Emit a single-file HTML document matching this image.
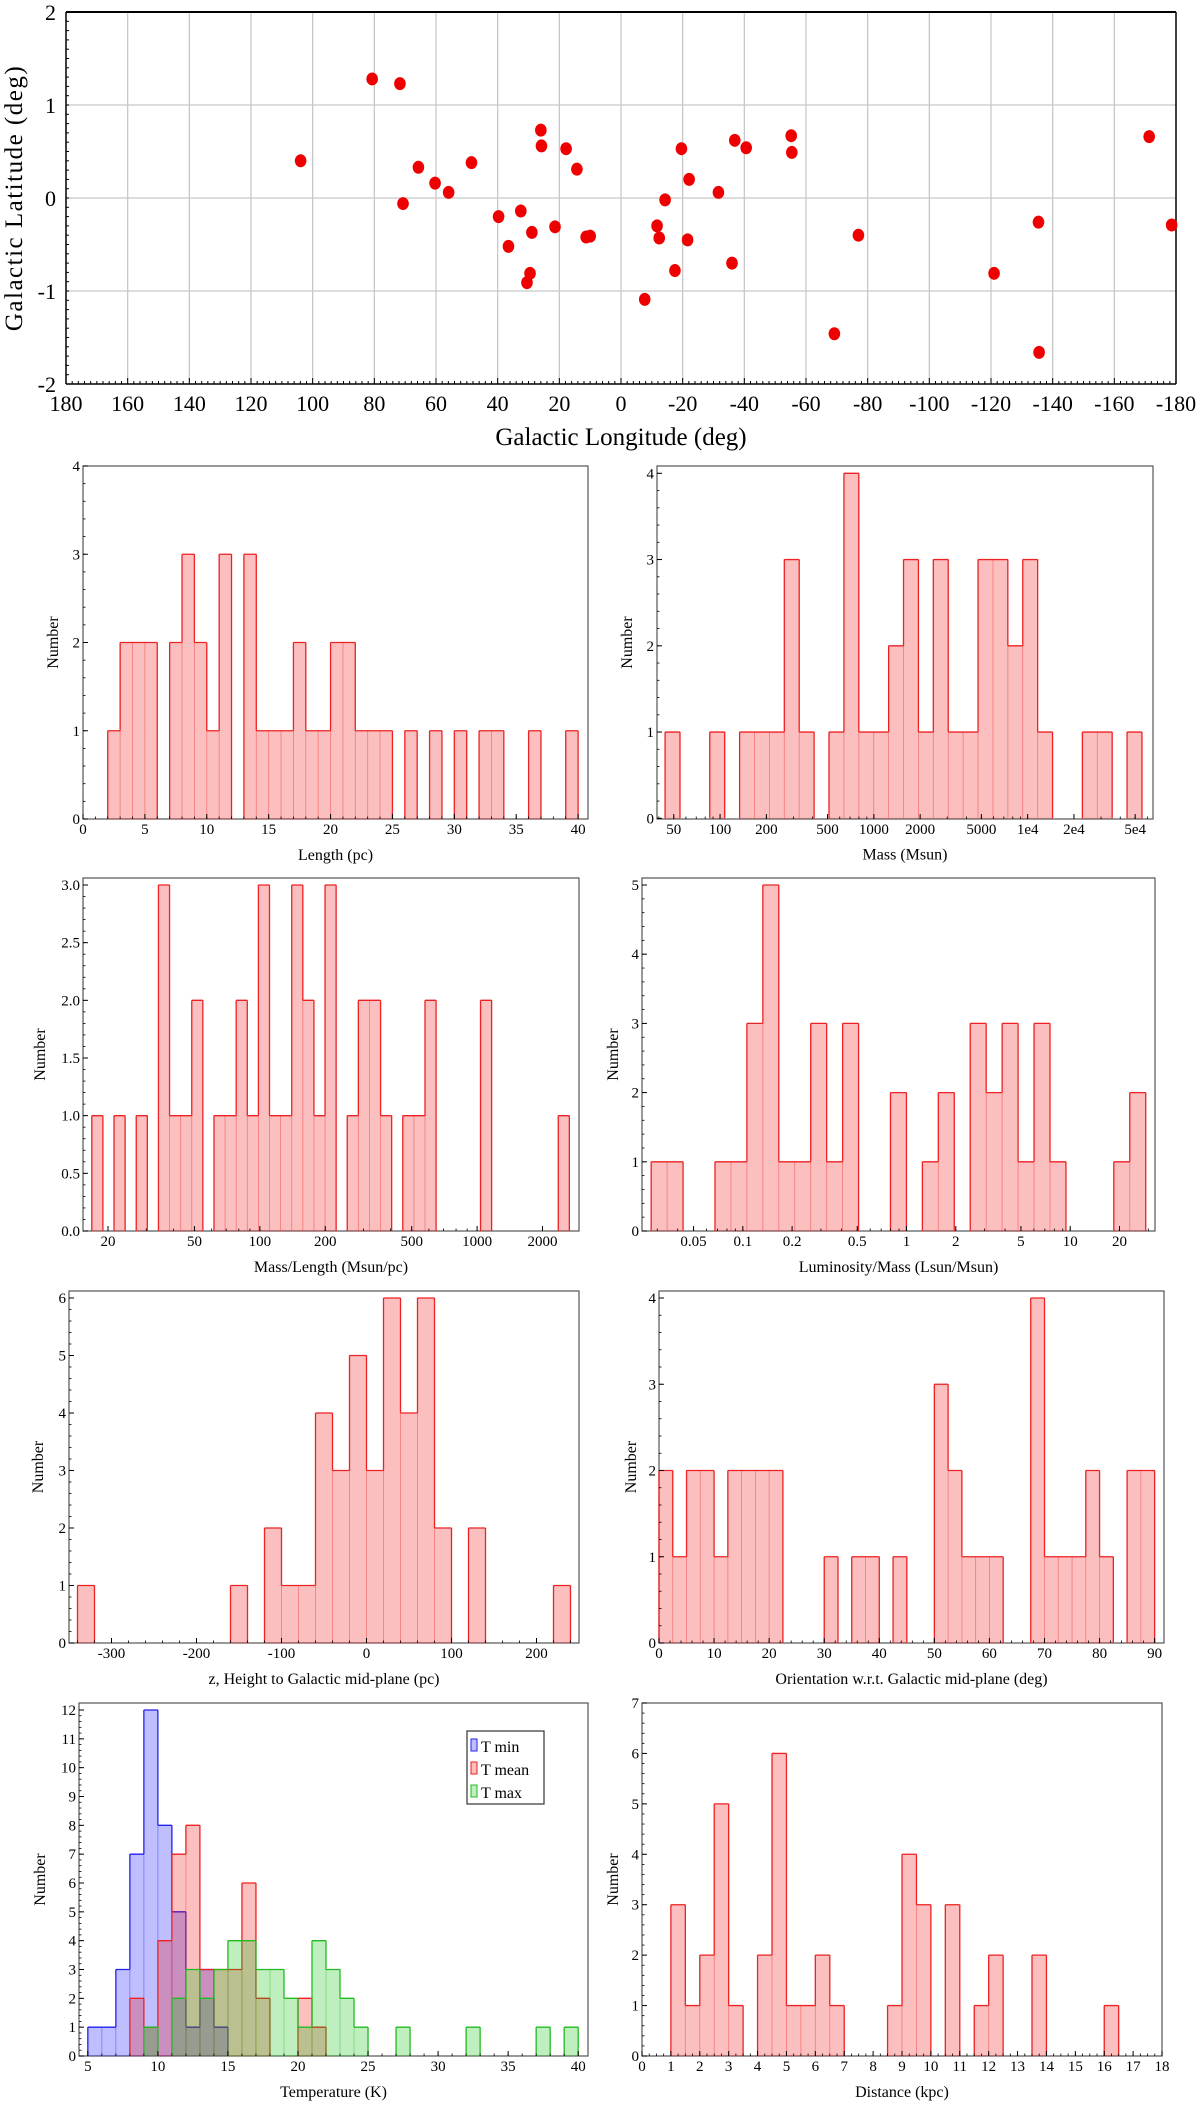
<!DOCTYPE html>
<html><head><meta charset="utf-8">
<style>
html,body{margin:0;padding:0;background:#fff;}
svg{display:block;font-family:"Liberation Serif","Times New Roman",serif;}
svg text{font-family:"Liberation Serif","Times New Roman",serif;}
</style></head>
<body>
<svg id="fig" width="1200" height="2104" viewBox="0 0 1200 2104" xmlns="http://www.w3.org/2000/svg"></svg>
<script>
// ---------- scatter data ----------
const lon=[103.9,80.7,71.7,70.7,65.7,60.3,55.9,48.5,39.7,36.5,32.5,28.9,29.5,30.5,26.0,25.8,21.4,17.8,14.3,11.3,10.0,-7.7,-11.7,-12.4,-14.3,-17.5,-19.6,-21.6,-22.1,-31.6,-36.0,-36.9,-40.6,-55.2,-55.4,-69.2,-77.0,-121.0,-135.4,-135.6,-171.3,-178.6];
const lat=[0.40,1.28,1.23,-0.06,0.33,0.16,0.06,0.38,-0.20,-0.52,-0.14,-0.37,-0.81,-0.91,0.73,0.56,-0.31,0.53,0.31,-0.42,-0.41,-1.09,-0.30,-0.43,-0.02,-0.78,0.53,-0.45,0.20,0.06,-0.70,0.62,0.54,0.67,0.49,-1.46,-0.40,-0.81,-0.26,-1.66,0.66,-0.29];
const lonTicks=[180,160,140,120,100,80,60,40,20,0,-20,-40,-60,-80,-100,-120,-140,-160,-180];
const latTicks=[2,1,0,-1,-2];
// ---------- histogram data ----------
const lengthCounts=[1,2,2,2,0,2,3,2,1,3,0,3,1,1,1,2,1,1,2,2,1,1,1,0,1,0,1,0,1,0,1,1,0,0,1,0,0,1];
const lengthBin=[2,1];
const massCounts=[1,0,0,1,0,1,1,1,3,1,0,1,4,1,1,2,3,1,3,1,1,3,3,2,3,1,0,0,1,1,0,1];
const massBin=[1.6425,0.0969];
const mlCounts=[1,0,1,0,1,0,3,1,1,2,0,1,1,2,1,3,1,1,3,2,1,3,0,1,2,2,1,0,1,1,2,0,0,0,0,2,0,0,0,0,0,0,1];
const mlBin=[1.2265,0.05112];
const lmCounts=[1,1,0,0,1,1,3,5,1,1,3,1,3,0,0,2,0,1,2,0,3,2,3,1,3,1,0,0,0,1,2];
const lmBin=[-1.56,0.09746];
const zCounts=[1,0,0,0,0,0,0,0,0,1,0,2,1,1,4,3,5,3,6,4,6,2,0,2,0,0,0,0,1];
const zBin=[-340,20];
const orientCounts=[2,1,2,2,1,2,2,2,2,0,0,0,1,0,1,1,0,1,0,0,3,2,1,1,1,0,0,4,1,1,1,2,1,0,2,2];
const orientBin=[0,2.5];
const tminCounts=[1,1,3,7,12,8,5,1,3,1];
const tminBin=[5,1];
const tmeanCounts=[2,1,4,7,8,3,3,3,6,2,0,0,2,1];
const tmeanBin=[8,1];
const tmaxCounts=[1,0,2,3,2,3,4,4,3,3,2,1,4,3,2,1,0,0,1,0,0,0,0,1,0,0,0,0,1,0,1];
const tmaxBin=[9,1];
const distCounts=[3,1,2,5,1,0,2,6,1,1,2,1,0,0,0,1,4,3,0,3,0,1,2,0,0,2,0,0,0,0,1];
const distBin=[1,0.5];
// tick labels
const lengthTicks=[0,5,10,15,20,25,30,35,40];
const massTicks=[50,100,200,500,1000,2000,5000,1e4,2e4,5e4];
const massTickLabels=["50","100","200","500","1000","2000","5000","1e4","2e4","5e4"];
const mlTicks=[20,50,100,200,500,1000,2000];
const lmTicks=[0.05,0.1,0.2,0.5,1,2,5,10,20];
const zTicks=[-300,-200,-100,0,100,200];
const orientTicks=[0,10,20,30,40,50,60,70,80,90];
const tempTicks=[5,10,15,20,25,30,35,40];
const distTicks=[0,1,2,3,4,5,6,7,8,9,10,11,12,13,14,15,16,17,18];

const NS="http://www.w3.org/2000/svg";
const svg=document.getElementById('fig');
function mk(tag,attrs,parent,text){const e=document.createElementNS(NS,tag);for(const k in attrs)e.setAttribute(k,attrs[k]);if(text!==undefined)e.textContent=text;(parent||svg).appendChild(e);return e;}

// ================= scatter =================
const S={l:66,r:1176,t:12,b:384,xmin:180,xmax:-180,ymin:-2,ymax:2};
const sx=v=>S.l+(v-S.xmin)/(S.xmax-S.xmin)*(S.r-S.l);
const sy=v=>S.b-(v-S.ymin)/(S.ymax-S.ymin)*(S.b-S.t);
const sg=mk('g',{});


lonTicks.forEach(v=>{
  if(v!==180&&v!==-180){const gl=mk('line',{x1:sx(v),x2:sx(v),y1:S.t,y2:S.b,stroke:'#c8c8c8','stroke-width':1.3},sg);
  
  }
  const t=mk('text',{x:sx(v),y:S.b+27,'font-size':22,'text-anchor':'middle'},sg,String(v));
  
  
});
latTicks.forEach(v=>{
  if(v!==2&&v!==-2){const gl=mk('line',{x1:S.l,x2:S.r,y1:sy(v),y2:sy(v),stroke:'#c8c8c8','stroke-width':1.3},sg);
  
  }
  const t=mk('text',{x:S.l-10,y:sy(v)+8,'font-size':22,'text-anchor':'end'},sg,String(v));
  
  
});
for(let v=-180;v<=180;v+=2){mk('line',{x1:sx(v),x2:sx(v),y1:S.b,y2:S.b-(v%20===0?6:3),stroke:'#000','stroke-width':1},sg);}
for(let v=-2;v<=2.001;v+=0.1){mk('line',{x1:S.l,x2:S.l+3,y1:sy(v),y2:sy(v),stroke:'#000','stroke-width':1},sg);}
mk('line',{x1:S.l,x2:S.r,y1:S.t,y2:S.t,stroke:'#000','stroke-width':2},sg);
mk('line',{x1:S.r,x2:S.r,y1:S.t,y2:S.b,stroke:'#000','stroke-width':1.5},sg);
mk('line',{x1:S.l,x2:S.r,y1:S.b,y2:S.b,stroke:'#000','stroke-width':1.5},sg);
mk('line',{x1:S.l,x2:S.l,y1:S.t,y2:S.b,stroke:'#000','stroke-width':1.5},sg);
lon.forEach((v,i)=>{
  const c=mk('ellipse',{cx:sx(v),cy:sy(lat[i]),rx:5.8,ry:6.5,fill:'#ee0000'},sg);
  
  
});
const sxt=mk('text',{x:621,y:445,'font-size':25,'text-anchor':'middle'},sg,'Galactic Longitude (deg)');


const syt=mk('text',{x:0,y:0,'font-size':25,'text-anchor':'middle','letter-spacing':'1.5',transform:'translate(22,198) rotate(-90)'},sg,'Galactic Latitude (deg)');



// ================= histograms =================
function hist(cfg){
  const g=mk('g',{});
  
  
  const [L,T,R,B]=cfg.frame;
  const tr=v=>cfg.log?Math.log10(v):v;
  const X=v=>L+(v-cfg.xr[0])/(cfg.xr[1]-cfg.xr[0])*(R-L);
  const Y=v=>cfg.y0-v*(cfg.y0-cfg.yRefPx)/cfg.yRef;
  mk('rect',{x:L,y:T,width:R-L,height:B-T,fill:'none',stroke:'#555','stroke-width':1.2},g);
  cfg.series.forEach(s=>{
    // filled bars with faint internal edges
    s.counts.forEach((c,i)=>{
      if(!c)return;
      const a=s.bin[0]+i*s.bin[1],b=a+s.bin[1];
      const r=mk('rect',{x:X(a),y:Y(c),width:X(b)-X(a),height:Y(0)-Y(c),fill:s.fill,stroke:s.stroke,'stroke-width':0.8,'stroke-opacity':0.25},g);
      
      
    });
    // step outline
    let d='',prev=0;
    s.counts.forEach((c,i)=>{
      const a=X(s.bin[0]+i*s.bin[1]),b=X(s.bin[0]+(i+1)*s.bin[1]);
      if(c!==prev) d+=`M${a},${Y(prev)}L${a},${Y(c)}`;
      if(c) d+=`M${a},${Y(c)}L${b},${Y(c)}`;
      prev=c;
    });
    const endX=X(s.bin[0]+s.counts.length*s.bin[1]);
    if(prev) d+=`M${endX},${Y(prev)}L${endX},${Y(0)}`;
    const p=mk('path',{d:d,fill:'none',stroke:s.stroke,'stroke-width':1.3},g);
    
    
  });
  for(let v=0;v<=cfg.yMaxTick+1e-9;v+=cfg.yStep){
    mk('line',{x1:L,x2:L+5,y1:Y(v),y2:Y(v),stroke:'#000'},g);
    const t=mk('text',{x:L-3,y:Y(v)+5,'font-size':15,'text-anchor':'end'},g,cfg.yFmt?v.toFixed(1):String(Math.round(v)));
    
    
  }
  for(let v=0;v<=cfg.yMaxTick+1e-9;v+=cfg.yMinor){mk('line',{x1:L,x2:L+2.5,y1:Y(v),y2:Y(v),stroke:'#000','stroke-width':0.8},g);}
  cfg.xt.forEach((v,i)=>{
    const x=X(tr(v));
    mk('line',{x1:x,x2:x,y1:B,y2:B-5,stroke:'#000'},g);
    const t=mk('text',{x:x,y:B+15,'font-size':15,'text-anchor':'middle'},g,cfg.xl?cfg.xl[i]:String(v));
    
    
  });
  if(cfg.log){
    for(let d=-3;d<6;d++)for(let m=1;m<10;m++){const lv=d+Math.log10(m);if(lv>cfg.xr[0]&&lv<cfg.xr[1])mk('line',{x1:X(lv),x2:X(lv),y1:B,y2:B-2.5,stroke:'#000','stroke-width':0.8},g);}
  } else {
    for(let v=Math.ceil(cfg.xr[0]/cfg.xMinor)*cfg.xMinor;v<=cfg.xr[1];v+=cfg.xMinor)mk('line',{x1:X(v),x2:X(v),y1:B,y2:B-2.5,stroke:'#000','stroke-width':0.8},g);
  }
  const xt=mk('text',{x:(L+R)/2,y:cfg.y0+41,'font-size':16,'text-anchor':'middle'},g,cfg.xTitle);
  
  
  const yt=mk('text',{x:0,y:0,'font-size':16,'text-anchor':'middle',transform:`translate(${cfg.ylx},${(T+B)/2}) rotate(-90)`},g,'Number');
  
  
  return {g,X,Y};
}
const RF='rgba(240,0,0,0.25)',RS='#ee2222';
hist({name:'length-histogram',frame:[83,466,588,819],xr:[0,40.8],y0:819,yRef:4,yRefPx:466,yMaxTick:4,yStep:1,yMinor:0.2,xt:lengthTicks,xMinor:1,xTitle:'Length (pc)',ylx:58,
  series:[{name:'length',counts:lengthCounts,bin:lengthBin,fill:RF,stroke:RS}]});
hist({name:'mass-histogram',log:true,frame:[657,466,1153,819],xr:[1.590,4.815],y0:818.3,yRef:4,yRefPx:473.3,yMaxTick:4,yStep:1,yMinor:0.2,xt:massTicks,xl:massTickLabels,xTitle:'Mass (Msun)',ylx:632,
  series:[{name:'mass',counts:massCounts,bin:massBin,fill:RF,stroke:RS}]});
hist({name:'mass-per-length-histogram',log:true,frame:[83,878,579,1231],xr:[1.186,3.469],y0:1231,yRef:3,yRefPx:885,yMaxTick:3,yStep:0.5,yMinor:0.1,yFmt:true,xt:mlTicks,xTitle:'Mass/Length (Msun/pc)',ylx:45,
  series:[{name:'mass-per-length',counts:mlCounts,bin:mlBin,fill:RF,stroke:RS}]});
hist({name:'luminosity-per-mass-histogram',log:true,frame:[642,878,1155,1231],xr:[-1.616,1.518],y0:1231,yRef:5,yRefPx:885,yMaxTick:5,yStep:1,yMinor:0.2,xt:lmTicks,xTitle:'Luminosity/Mass (Lsun/Msun)',ylx:618,
  series:[{name:'luminosity-per-mass',counts:lmCounts,bin:lmBin,fill:RF,stroke:RS}]});
hist({name:'height-histogram',frame:[69,1291,579,1643],xr:[-350,250],y0:1643,yRef:6,yRefPx:1298,yMaxTick:6,yStep:1,yMinor:0.2,xt:zTicks,xMinor:20,xTitle:'z, Height to Galactic mid-plane (pc)',ylx:43,
  series:[{name:'height',counts:zCounts,bin:zBin,fill:RF,stroke:RS}]});
hist({name:'orientation-histogram',frame:[659,1291,1164,1643],xr:[0,91.7],y0:1643,yRef:4,yRefPx:1298,yMaxTick:4,yStep:1,yMinor:0.2,xt:orientTicks,xMinor:2,xTitle:'Orientation w.r.t. Galactic mid-plane (deg)',ylx:636,
  series:[{name:'orientation',counts:orientCounts,bin:orientBin,fill:RF,stroke:RS}]});
hist({name:'temperature-histogram',frame:[79,1703,588,2056],xr:[4.37,40.7],y0:2056,yRef:12,yRefPx:1710,yMaxTick:12,yStep:1,yMinor:0.2,xt:tempTicks,xMinor:1,xTitle:'Temperature (K)',ylx:45,
  series:[{name:'t-min',counts:tminCounts,bin:tminBin,fill:'rgba(0,0,255,0.25)',stroke:'#2222ee'},
          {name:'t-mean',counts:tmeanCounts,bin:tmeanBin,fill:'rgba(240,0,0,0.25)',stroke:'#ee2222'},
          {name:'t-max',counts:tmaxCounts,bin:tmaxBin,fill:'rgba(0,190,0,0.25)',stroke:'#22bb22'}]});
hist({name:'distance-histogram',frame:[642,1703,1162,2056],xr:[0,18],y0:2056,yRef:7,yRefPx:1703,yMaxTick:7,yStep:1,yMinor:0.2,xt:distTicks,xMinor:0.25,xTitle:'Distance (kpc)',ylx:618,
  series:[{name:'distance',counts:distCounts,bin:distBin,fill:RF,stroke:RS}]});

// legend
const lg=mk('g',{});


mk('rect',{x:467,y:1731,width:77,height:73,fill:'#fff',stroke:'#333','stroke-width':1.2},lg);
[['T min','rgba(0,0,255,0.25)','#2222ee'],['T mean','rgba(240,0,0,0.25)','#ee2222'],['T max','rgba(0,190,0,0.25)','#22bb22']].forEach((e,i)=>{
  const y=1748+i*23;
  const sw=mk('rect',{x:471,y:y-9,width:6,height:12,fill:e[1],stroke:e[2],'stroke-width':1},lg);
  
  
  const t=mk('text',{x:481,y:y+4,'font-size':16},lg,e[0]);
  
  
});
</script>
</body></html>
